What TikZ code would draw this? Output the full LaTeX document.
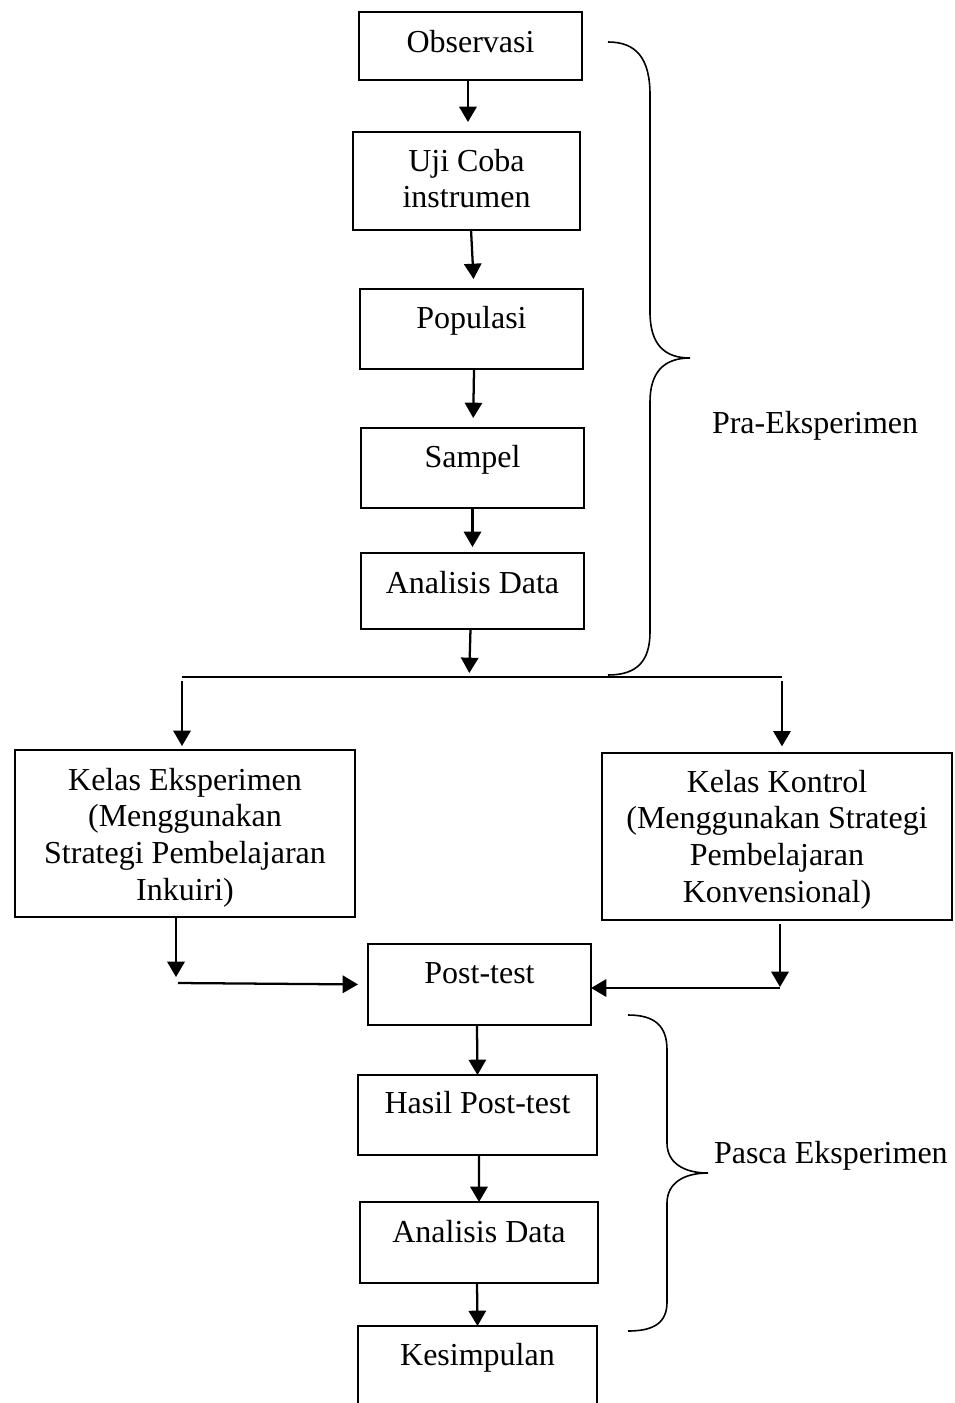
\documentclass[tikz,border=0pt]{standalone}
\usepackage{fontspec}
\setmainfont{Liberation Serif}
\usetikzlibrary{arrows.meta,calc}
\newcommand\flowbox[6][]{%
  \pgfmathsetmacro\fbw{(#5-#3)*0.75}%
  \pgfmathsetmacro\fbh{(#6-#4)*0.75}%
  \pgfmathsetmacro\fbx{(#3+#5)/2}%
  \pgfmathsetmacro\fby{(#4+#6)/2}%
  \node[boxst, #1, minimum width=\fbw pt, minimum height=\fbh pt] (#2) at (\fbx,\fby) {};}
\newcommand\ml[1]{\begin{tabular}[t]{@{}c@{}}#1\end{tabular}}
\begin{document}
\begin{tikzpicture}[x=0.75pt,y=-0.75pt,
  boxst/.style={draw, line width=1.2pt, inner sep=0pt, outer sep=0pt},
  txt/.style={anchor=base, inner sep=0pt, outer sep=0pt, font=\fontsize{24}{27.5}\selectfont},
  arr/.style={-{Triangle[length=11.5pt,width=13pt]}, line width=1.7pt},
  plain/.style={line width=1.7pt},
  bracest/.style={line width=1.2pt}]
\useasboundingbox (0,0) rectangle (954,1403);

% boxes
\flowbox{obs}{359}{12}{582}{80}
\flowbox{uji}{353}{132}{580}{230}
\flowbox{pop}{360}{289}{583}{369}
\flowbox{sam}{361}{428}{584}{508}
\flowbox{ad1}{361}{553}{584}{629}
\flowbox{ke}{15}{750}{355}{917}
\flowbox{kk}{602}{753}{952}{920}
\flowbox{pt}{368}{944}{591}{1025}
\flowbox{hpt}{358}{1075}{597}{1155}
\flowbox{ad2}{360}{1202}{598}{1283}
\flowbox[draw=none]{kes}{358}{1326}{597}{1425}
\draw[line width=1.2pt] (kes.south west) -- (kes.north west) -- (kes.north east) -- (kes.south east);

% texts
\node[txt] (obs-t) at (470.5,52) {Observasi};
\node[txt] (uji-t) at (466.5,171) {\ml{Uji Coba\\instrumen}};
\node[txt] (pop-t) at (471.5,328) {Populasi};
\node[txt] (sam-t) at (472.5,467) {Sampel};
\node[txt] (ad1-t) at (472.5,593) {Analisis Data};
\node[txt] (ke-t) at (185,790) {\ml{Kelas Eksperimen\\(Menggunakan\\Strategi Pembelajaran\\Inkuiri)}};
\node[txt] (kk-t) at (777,792) {\ml{Kelas Kontrol\\(Menggunakan Strategi\\Pembelajaran\\Konvensional)}};
\node[txt] (pt-t) at (479.5,983) {Post-test};
\node[txt] (hpt-t) at (477.5,1113) {Hasil Post-test};
\node[txt] (ad2-t) at (479,1242) {Analisis Data};
\node[txt] (kes-t) at (477.5,1365) {Kesimpulan};
\node[txt, anchor=base west] (pra) at (712,433) {Pra-Eksperimen};
\node[txt, anchor=base west] (pasca) at (714,1163) {Pasca Eksperimen};

% top chain
\draw[arr, shorten >=7.5pt] ([xshift=-1.9pt]obs.south) -- ([xshift=1.1pt]uji.north);
\draw[arr, shorten >=7.5pt] ([xshift=3.4pt]uji.south) -- ([xshift=1.9pt]pop.north);
\draw[arr, shorten >=7.5pt] ([xshift=1.9pt]pop.south) -- ([xshift=0.4pt]sam.north);
\draw[arr, shorten >=4.5pt] (sam.south) -- (ad1.north);

% split line
\coordinate (sl) at (182,677);
\coordinate (sr) at (782,677);
\draw[plain] (sl) -- (sr);
\draw[arr, shorten >=3pt] ([xshift=-1.5pt]ad1.south) -- ([xshift=-2.5pt]ad1.south |- sl);
\draw[arr, shorten <=3pt, shorten >=3pt] (sl) -- (sl |- ke.north);
\draw[arr, shorten <=3pt, shorten >=5pt] (sr) -- (sr |- kk.north);

% into post-test
\coordinate (lk) at (176,977);
\coordinate (lh) at (178,983);
\draw[arr] (ke.south -| lk) -- (lk);
\draw[arr, shorten >=7.5pt] (lh) -- (pt.west);
\coordinate (rk) at (780,987);
\coordinate (rh) at (780,988);
\draw[arr, shorten <=3pt] (kk.south -| rk) -- (rk);
\draw[arr] (rh) -- (pt.east |- rh);

% bottom chain
\draw[arr] ([xshift=-1.9pt]pt.south) -- (hpt.north);
\draw[arr] ([xshift=1.1pt]hpt.south) -- (ad2.north);
\draw[arr] ([xshift=-1.5pt]ad2.south) -- (kes.north);

% braces
\draw[bracest] (608,42) .. controls (636,42) and (650,58) .. (650,95) -- (650,312)
  .. controls (650,344) and (664,358) .. (690,358)
  .. controls (664,358) and (650,372) .. (650,402) -- (650,632)
  .. controls (650,660) and (638,675) .. (608,675);
\draw[bracest] (628,1015) .. controls (655,1015) and (667,1026) .. (667,1050) -- (667,1143)
  .. controls (667,1163) and (684,1173) .. (708,1173)
  .. controls (684,1173) and (667,1183) .. (667,1203) -- (667,1302)
  .. controls (667,1322) and (655,1331) .. (628,1331);
\end{tikzpicture}
\end{document}
